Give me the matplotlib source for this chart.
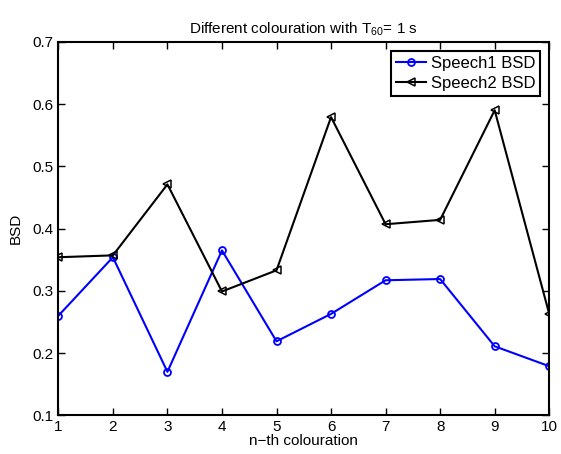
import matplotlib
matplotlib.use("Agg")
import matplotlib.pyplot as plt

plt.rcParams['font.family'] = ['Liberation Sans', 'DejaVu Sans']
plt.rcParams['mathtext.fontset'] = 'custom'
plt.rcParams['mathtext.rm'] = 'Liberation Sans'

# dados
n = [1, 2, 3, 4, 5, 6, 7, 8, 9, 10]
speech1 = [0.260, 0.354, 0.170, 0.365, 0.219, 0.263, 0.317, 0.319, 0.211, 0.179]
speech2 = [0.354, 0.357, 0.471, 0.299, 0.333, 0.579, 0.407, 0.414, 0.590, 0.263]

fig = plt.figure(figsize=(5.61, 4.54), dpi=100)
ax = fig.add_axes([0.104, 0.085, 0.875, 0.823])

ax.plot(n, speech1, color='blue', lw=1.5, marker='o', ms=5, mfc='none',
        mew=1.3, label='Speech1 BSD')
ax.plot(n, speech2, color='black', lw=1.5, marker='<', ms=6, mfc='none',
        mew=1.1, label='Speech2 BSD')

ax.set_xlim(1, 10)
ax.set_ylim(0.1, 0.7)
ax.set_xticks(n)
ax.set_yticks([0.1, 0.2, 0.3, 0.4, 0.5, 0.6, 0.7])
ax.tick_params(direction='in', top=True, right=True, labelsize=11, length=5, width=1)
for s in ax.spines.values():
    s.set_linewidth(1.5)

ax.set_xlabel('n\u2212th colouration', fontsize=11, labelpad=0)
ax.set_ylabel('BSD', fontsize=11, labelpad=7)
ax.set_title('Different colouration with T$_{60}$= 1 s', fontsize=11, pad=6)

leg = ax.legend(loc='upper right', fontsize=12, fancybox=False, framealpha=1,
                edgecolor='black', borderaxespad=0.55, handlelength=1.75,
                handletextpad=0.3, borderpad=0.3, labelspacing=0.3)
leg.get_frame().set_linewidth(1.5)

fig.savefig('out.png', dpi=100)
